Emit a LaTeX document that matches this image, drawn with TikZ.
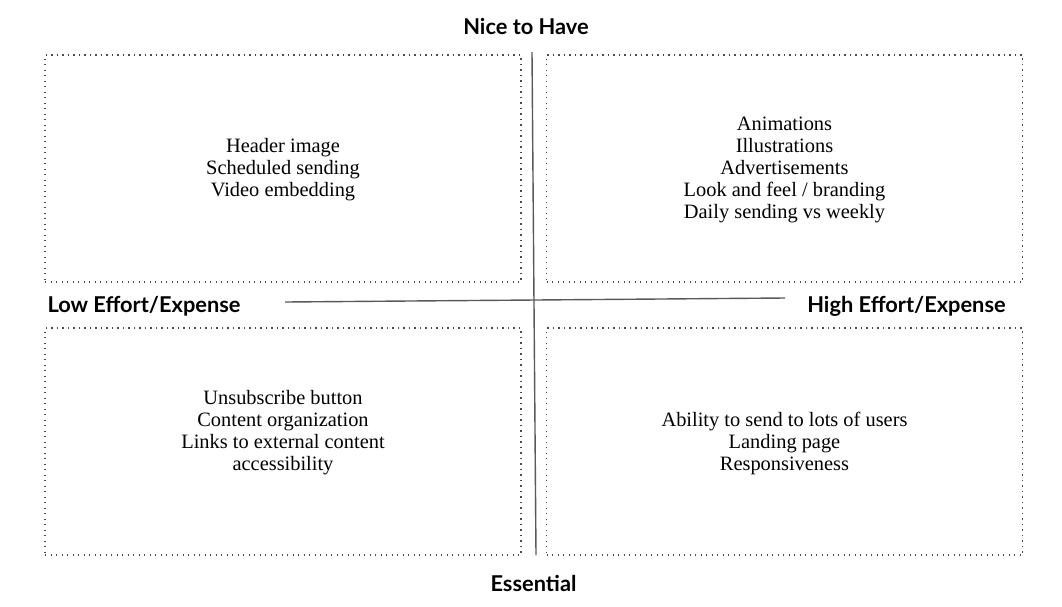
\documentclass[tikz,border=0pt]{standalone}
\usepackage{fontspec}
\setmainfont{Liberation Serif}
\newfontfamily\headfont{Lato}
\usetikzlibrary{positioning}

\begin{document}
\begin{tikzpicture}[x=1pt,y=-1pt,
    quad/.style={draw=black!70, line width=1.2pt, dash pattern=on 1.2pt off 4.3pt,
      minimum width=476pt, minimum height=227pt, inner sep=0pt},
    item/.style={align=center, font=\fontsize{20.4}{22}\selectfont},
    axislabel/.style={font=\headfont\bfseries\fontsize{21.8}{24}\selectfont},
    axis/.style={draw=black!65, line width=1.4pt}]
  \useasboundingbox (0,0) rectangle (1062,606);

  % quadrants
  \node[quad] (nice-low)  at (283,168.5) {};
  \node[quad] (nice-high) at (784.5,168.5) {};
  \node[quad] (ess-low)   at (283,441.5) {};
  \node[quad] (ess-high)  at (784.5,441.5) {};

  \node[item, yshift=-1.5pt] (nl-text) at (nice-low) {Header image\\Scheduled sending\\Video embedding};
  \node[item, yshift=-1.5pt] (nh-text) at (nice-high) {Animations\\Illustrations\\Advertisements\\Look and feel / branding\\Daily sending vs weekly};
  \node[item, yshift=9pt] (el-text) at (ess-low) {Unsubscribe button\\Content organization\\Links to external content\\accessibility};
  \node[item, yshift=-1.5pt] (eh-text) at (ess-high) {Ability to send to lots of users\\Landing page\\Responsiveness};

  % axis labels
  \node[axislabel] (nice) at (526,27) {Nice to Have};
  \node[axislabel] (essential) at (533.5,583) {Essential};
  \node[axislabel] (low) at (144,306) {Low Effort/Expense};
  \node[axislabel] (high) at (906.5,306) {High Effort/Expense};

  \coordinate (v-top) at (532,52);
  \coordinate (v-bot) at (536,555);
  \coordinate (h-left) at (285,302);
  \coordinate (h-right) at (785,298);
  \draw[axis] (v-top) -- (v-bot);
  \draw[axis] (h-left) -- (h-right);
\end{tikzpicture}
\end{document}
